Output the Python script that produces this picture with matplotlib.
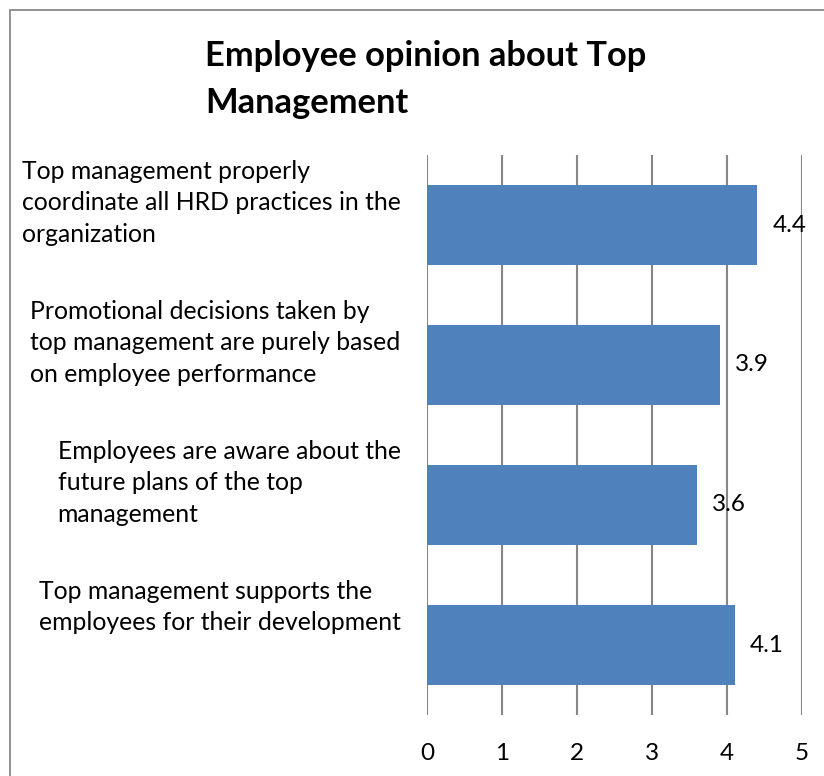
import matplotlib.pyplot as plt
from matplotlib.patches import Rectangle

plt.rcParams['font.family'] = ['Lato', 'DejaVu Sans']

# data, top to bottom as in the picture
categories = [
    "Top management properly\ncoordinate all HRD practices in the\norganization",
    "Promotional decisions taken by\ntop management are purely based\non employee performance",
    "Employees are aware about the\nfuture plans of the top\nmanagement",
    "Top management supports the\nemployees for their development",
]
scores = [4.4, 3.9, 3.6, 4.1]
ticks = [0, 1, 2, 3, 4, 5]

W, H = 824, 776
fig = plt.figure(figsize=(W / 100, H / 100), dpi=100, facecolor='white')

# outer chart border (only left and top visible, like the cropped original)
fig.patches.append(Rectangle((10 / W, -0.1), 1.2, (H - 10) / H + 0.1,
                             transform=fig.transFigure, fill=False,
                             edgecolor='#898989', lw=1.3))

ax = fig.add_axes([427 / W, 1 - 715 / H, (802 - 427) / W, (715 - 155) / H])
ypos = list(range(len(categories)))[::-1]
ax.barh(ypos, scores, height=0.57, color='#4f81bd', zorder=3)
ax.set_ylim(-0.5, len(categories) - 0.5)
ax.set_xlim(0, 5)
ax.set_xticks(ticks)
ax.set_xticklabels([str(t) for t in ticks], fontsize=17.5)
ax.tick_params(axis='x', length=0, pad=20)
ax.set_yticks([])
ax.grid(axis='x', color='#868686', lw=1.5, zorder=1)
for s in ax.spines.values():
    s.set_visible(False)

# category labels: top-aligned a bit above the bar centre, like Excel does
for y, cat in zip(ypos, categories):
    ax.annotate(cat, (0, y), xycoords=('axes fraction', 'data'),
                xytext=(-19, 47), textcoords='offset points',
                ha='right', va='top', multialignment='left',
                fontsize=17.8, linespacing=1.46)

for y, v in zip(ypos, scores):
    ax.annotate(f"{v}", (v, y), xytext=(11, 0), textcoords='offset points',
                va='center', ha='left', fontsize=17.5, zorder=4)

fig.text(205 / W, 1 - 40 / H, "Employee opinion about Top\nManagement",
         fontsize=24.8, fontweight='bold', ha='left', va='top', linespacing=1.56)

fig.savefig('out.png', dpi=100, facecolor='white')
